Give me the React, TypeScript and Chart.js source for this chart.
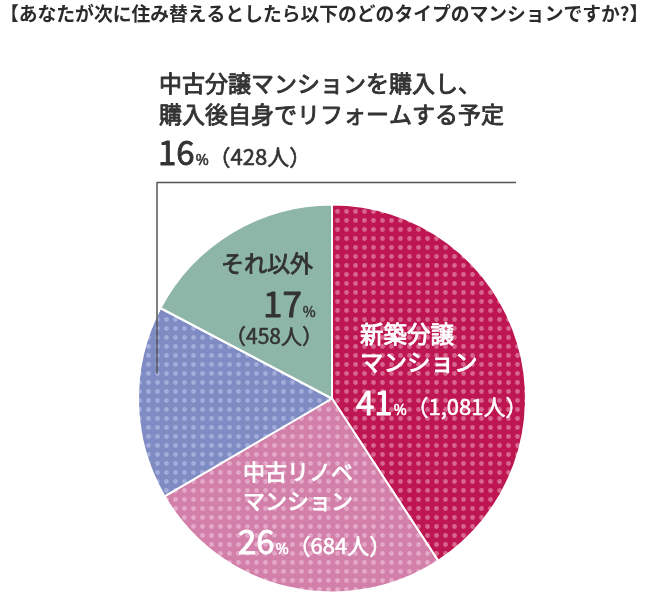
import { useEffect, useRef } from "react";
import { Chart, registerables, ChartConfiguration, Plugin } from "chart.js";

Chart.register(...registerables);

const TITLE =
  "【あなたが次に住み替えるとしたら以下のどのタイプのマンションですか?】";
// each category split into the lines it is printed on
const CATEGORY_LINES: string[][] = [
  ["新築分譲", "マンション"],
  ["中古リノベ", "マンション"],
  ["中古分譲マンションを購入し、", "購入後自身でリフォームする予定"],
  ["それ以外"],
];
const PERCENTS = [41, 26, 16, 17];
const PEOPLE = [1081, 684, 428, 458];
const BASE_COLORS = ["#bd1651", "#d27fa9", "#7f8bc3", "#8db5a8"];
const DOT_COLORS: (string | null)[] = ["#d9668f", "#e4a9c8", "#a3addb", null];
const TEXT_COLORS = ["#ffffff", "#ffffff", "#333333", "#333333"];

const FONT = '"Noto Sans CJK JP", "Noto Sans", sans-serif';

function makePattern(base: string, dot: string | null): CanvasPattern | string {
  if (!dot) return base;
  const tile = document.createElement("canvas");
  tile.width = 9;
  tile.height = 9;
  const c = tile.getContext("2d");
  if (!c) return base;
  c.fillStyle = base;
  c.fillRect(0, 0, 9, 9);
  c.fillStyle = dot;
  c.beginPath();
  c.arc(4.5, 4.5, 2.4, 0, Math.PI * 2);
  c.fill();
  const p = c.createPattern(tile, "repeat");
  return p || base;
}

type Run = [string, number];

// regular face with a thin outline, reads as a medium weight
function drawRuns(
  ctx: CanvasRenderingContext2D,
  x: number,
  y: number,
  runs: Run[],
  color: string,
  weight: string,
  outline = 0
) {
  ctx.fillStyle = color;
  ctx.strokeStyle = color;
  ctx.lineJoin = "round";
  ctx.textBaseline = "alphabetic";
  ctx.textAlign = "left";
  let cx = x;
  runs.forEach(([text, size]) => {
    ctx.font = `${weight} ${size}px ${FONT}`;
    ctx.fillText(text, cx, y);
    if (outline > 0) {
      ctx.lineWidth = outline;
      ctx.strokeText(text, cx, y);
    }
    cx += ctx.measureText(text).width;
  });
  return cx;
}

// label layout per slice, offsets from the pie centre
const LABEL_POS = [
  { dx: 28, dy: -56, lineGap: 28, numGap: 44, numDx: -4, size: 23.5 },
  { dx: -89, dy: 81, lineGap: 29, numGap: 45, numDx: -5, size: 22 },
  { dx: -173, dy: -307, lineGap: 31, numGap: 42, numDx: -1, size: 23 },
  { dx: -111, dy: -127, lineGap: 0, numGap: 0, numDx: 0, size: 23 },
];

const labelPlugin: Plugin<"pie"> = {
  id: "sliceLabels",
  afterDraw(chart) {
    const ctx = chart.ctx;
    const arc = chart.getDatasetMeta(0).data[0] as any;
    const cx = arc.x;
    const cy = arc.y;
    ctx.save();

    // title
    drawRuns(ctx, 0, 21, [[TITLE, 18.8]], "#2b2b2b", "bold");

    PERCENTS.forEach((pct, i) => {
      const pos = LABEL_POS[i];
      const color = TEXT_COLORS[i];
      const x = cx + pos.dx;
      let y = cy + pos.dy;
      const people = `（${PEOPLE[i].toLocaleString("en-US")}人）`;
      if (i === 3) {
        drawRuns(ctx, x, y, [[CATEGORY_LINES[i][0], pos.size]], color, "normal", 0.9);
        const end = drawRuns(ctx, x + 42, y + 45, [[String(pct), 35]], color, "normal", 0.9);
        drawRuns(ctx, end + 1, y + 45, [["%", 14]], color, "normal", 0.5);
        drawRuns(ctx, x + 4, y + 72, [[people, 21]], color, "normal", 0.6);
        return;
      }
      CATEGORY_LINES[i].forEach((line, li) => {
        drawRuns(ctx, x, y + li * pos.lineGap, [[line, pos.size]], color, "normal", 0.9);
      });
      y += (CATEGORY_LINES[i].length - 1) * pos.lineGap + pos.numGap;
      const end = drawRuns(ctx, x + pos.numDx, y, [[String(pct), 33]], color, "normal", 0.9);
      drawRuns(
        ctx,
        end + 1,
        y,
        [
          ["%", 14],
          [people, 22],
        ],
        color,
        "normal",
        0.6
      );
    });

    // leader line for the small slice
    ctx.strokeStyle = "#555555";
    ctx.lineWidth = 1.5;
    ctx.beginPath();
    ctx.moveTo(cx + 184, cy - 216);
    ctx.lineTo(cx - 175, cy - 216);
    ctx.lineTo(cx - 175, cy - 25);
    ctx.stroke();
    ctx.restore();
  },
};

function App() {
  const canvasRef = useRef<HTMLCanvasElement | null>(null);

  useEffect(() => {
    let chart: Chart<"pie"> | null = null;
    const el = canvasRef.current;
    if (el) {
      const context = el.getContext("2d");
      if (context) {
        const config: ChartConfiguration<"pie"> = {
          type: "pie",
          data: {
            labels: CATEGORY_LINES.map((l) => l.join("")),
            datasets: [
              {
                data: PEOPLE,
                backgroundColor: BASE_COLORS.map((c, i) =>
                  makePattern(c, DOT_COLORS[i])
                ) as any,
                borderColor: "#ffffff",
                borderWidth: 2,
                radius: 194,
              },
            ],
          },
          options: {
            responsive: false,
            animation: false,
            layout: {
              padding: { left: 138, right: 142, top: 205, bottom: 7 },
            },
            plugins: {
              legend: { display: false },
              tooltip: { enabled: false },
            },
          },
          plugins: [labelPlugin],
        };
        chart = new Chart(context, config);
      }
    }
    return () => {
      if (chart) chart.destroy();
    };
  }, []);

  return (
    <div
      style={{
        position: "absolute",
        left: 0,
        top: 0,
        width: 668,
        height: 599,
        background: "#ffffff",
      }}
    >
      <canvas ref={canvasRef} width={668} height={599} />
    </div>
  );
}

export default App;
